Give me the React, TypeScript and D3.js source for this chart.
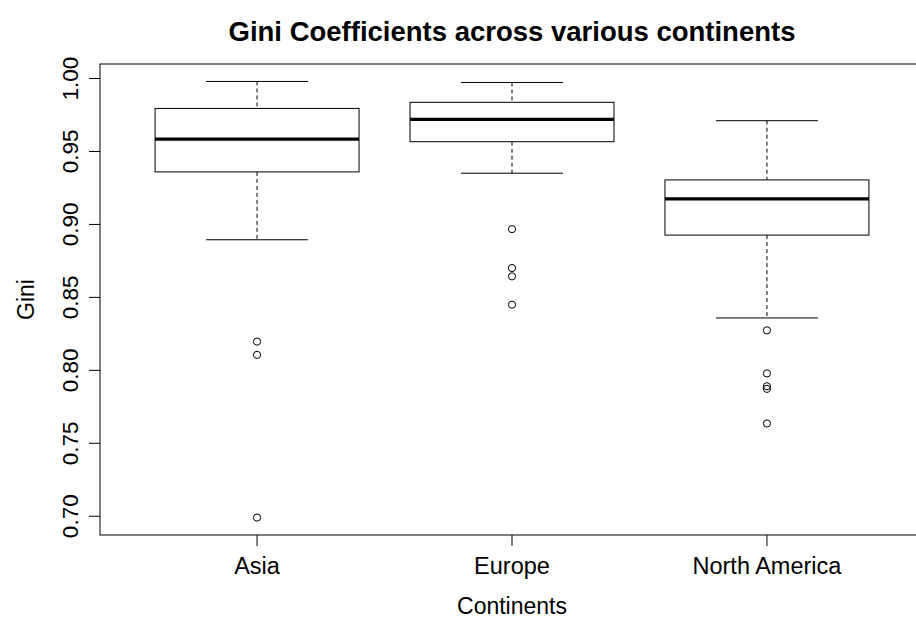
import React from "react";
import * as d3 from "d3";

// Box-plot summary statistics per continent (Gini coefficients)
const continents = ["Asia", "Europe", "North America"];
const lowerWhisker = [0.8895, 0.9351, 0.8359];
const firstQuartile = [0.936, 0.9567, 0.8927];
const medians = [0.9585, 0.972, 0.9175];
const thirdQuartile = [0.9795, 0.9837, 0.9305];
const upperWhisker = [0.998, 0.9973, 0.9711];
const outliersAsia = [0.8197, 0.8106, 0.6991];
const outliersEurope = [0.8968, 0.8701, 0.8644, 0.845];
const outliersNorthAmerica = [0.8274, 0.7979, 0.7891, 0.7873, 0.7636];
const outliers = [outliersAsia, outliersEurope, outliersNorthAmerica];
const yTicks = [0.7, 0.75, 0.8, 0.85, 0.9, 0.95, 1.0];

const W = 916;
const H = 622;
const plot = { left: 100, right: 924, top: 64, bottom: 535 };
const FONT = "'Liberation Sans', Arial, Helvetica, sans-serif";

export default function App() {
  const allValues = [...lowerWhisker, ...upperWhisker, ...outliers.flat()];
  const lo = d3.min(allValues) as number;
  const hi = d3.max(allValues) as number;
  const pad = (hi - lo) * 0.04;
  const y = d3.scaleLinear().domain([lo - pad, hi + pad]).range([plot.bottom, plot.top]);
  const x = d3.scaleLinear().domain([0.384, 3.616]).range([plot.left, plot.right]);
  const unit = x(1) - x(0);
  const boxHalf = 0.4 * unit;
  const capHalf = 0.2 * unit;

  return (
    <svg
      width={W}
      height={H}
      style={{ position: "absolute", left: 0, top: 0, background: "#fff" }}
      fontFamily={FONT}
    >
      <rect x={0} y={0} width={W} height={H} fill="#fff" />
      <text x={512} y={41} textAnchor="middle" fontWeight="bold" fontSize={27.5} fill="#000">
        Gini Coefficients across various continents
      </text>

      {continents.map((c, i) => {
        const cx = x(i + 1);
        return (
          <g key={c} stroke="#000" fill="none">
            <line x1={cx} x2={cx} y1={y(upperWhisker[i])} y2={y(thirdQuartile[i])} strokeDasharray="4,3" />
            <line x1={cx} x2={cx} y1={y(firstQuartile[i])} y2={y(lowerWhisker[i])} strokeDasharray="4,3" />
            <line x1={cx - capHalf} x2={cx + capHalf} y1={y(upperWhisker[i])} y2={y(upperWhisker[i])} />
            <line x1={cx - capHalf} x2={cx + capHalf} y1={y(lowerWhisker[i])} y2={y(lowerWhisker[i])} />
            <rect
              x={cx - boxHalf}
              y={y(thirdQuartile[i])}
              width={boxHalf * 2}
              height={y(firstQuartile[i]) - y(thirdQuartile[i])}
              fill="#fff"
            />
            <line x1={cx - boxHalf} x2={cx + boxHalf} y1={y(medians[i])} y2={y(medians[i])} strokeWidth={3.3} />
            {outliers[i].map((v, j) => (
              <circle key={j} cx={cx} cy={y(v)} r={3.6} />
            ))}
          </g>
        );
      })}

      {/* frame */}
      <rect
        x={plot.left}
        y={plot.top}
        width={plot.right - plot.left}
        height={plot.bottom - plot.top}
        fill="none"
        stroke="#000"
      />

      {/* y axis */}
      {yTicks.map((t) => (
        <g key={t}>
          <line x1={plot.left} x2={plot.left - 11} y1={y(t)} y2={y(t)} stroke="#000" />
          <text
            transform={`translate(78,${y(t)}) rotate(-90)`}
            textAnchor="middle"
            fontSize={22.5}
            fill="#000"
          >
            {t.toFixed(2)}
          </text>
        </g>
      ))}
      <text
        transform={`translate(34,${(plot.top + plot.bottom) / 2}) rotate(-90)`}
        textAnchor="middle"
        fontSize={23}
        fill="#000"
      >
        Gini
      </text>

      {/* x axis */}
      {continents.map((c, i) => (
        <g key={c}>
          <line x1={x(i + 1)} x2={x(i + 1)} y1={plot.bottom} y2={plot.bottom + 11} stroke="#000" />
          <text x={x(i + 1)} y={574} textAnchor="middle" fontSize={23.5} fill="#000">
            {c}
          </text>
        </g>
      ))}
      <text x={512} y={614} textAnchor="middle" fontSize={23} fill="#000">
        Continents
      </text>
    </svg>
  );
}
